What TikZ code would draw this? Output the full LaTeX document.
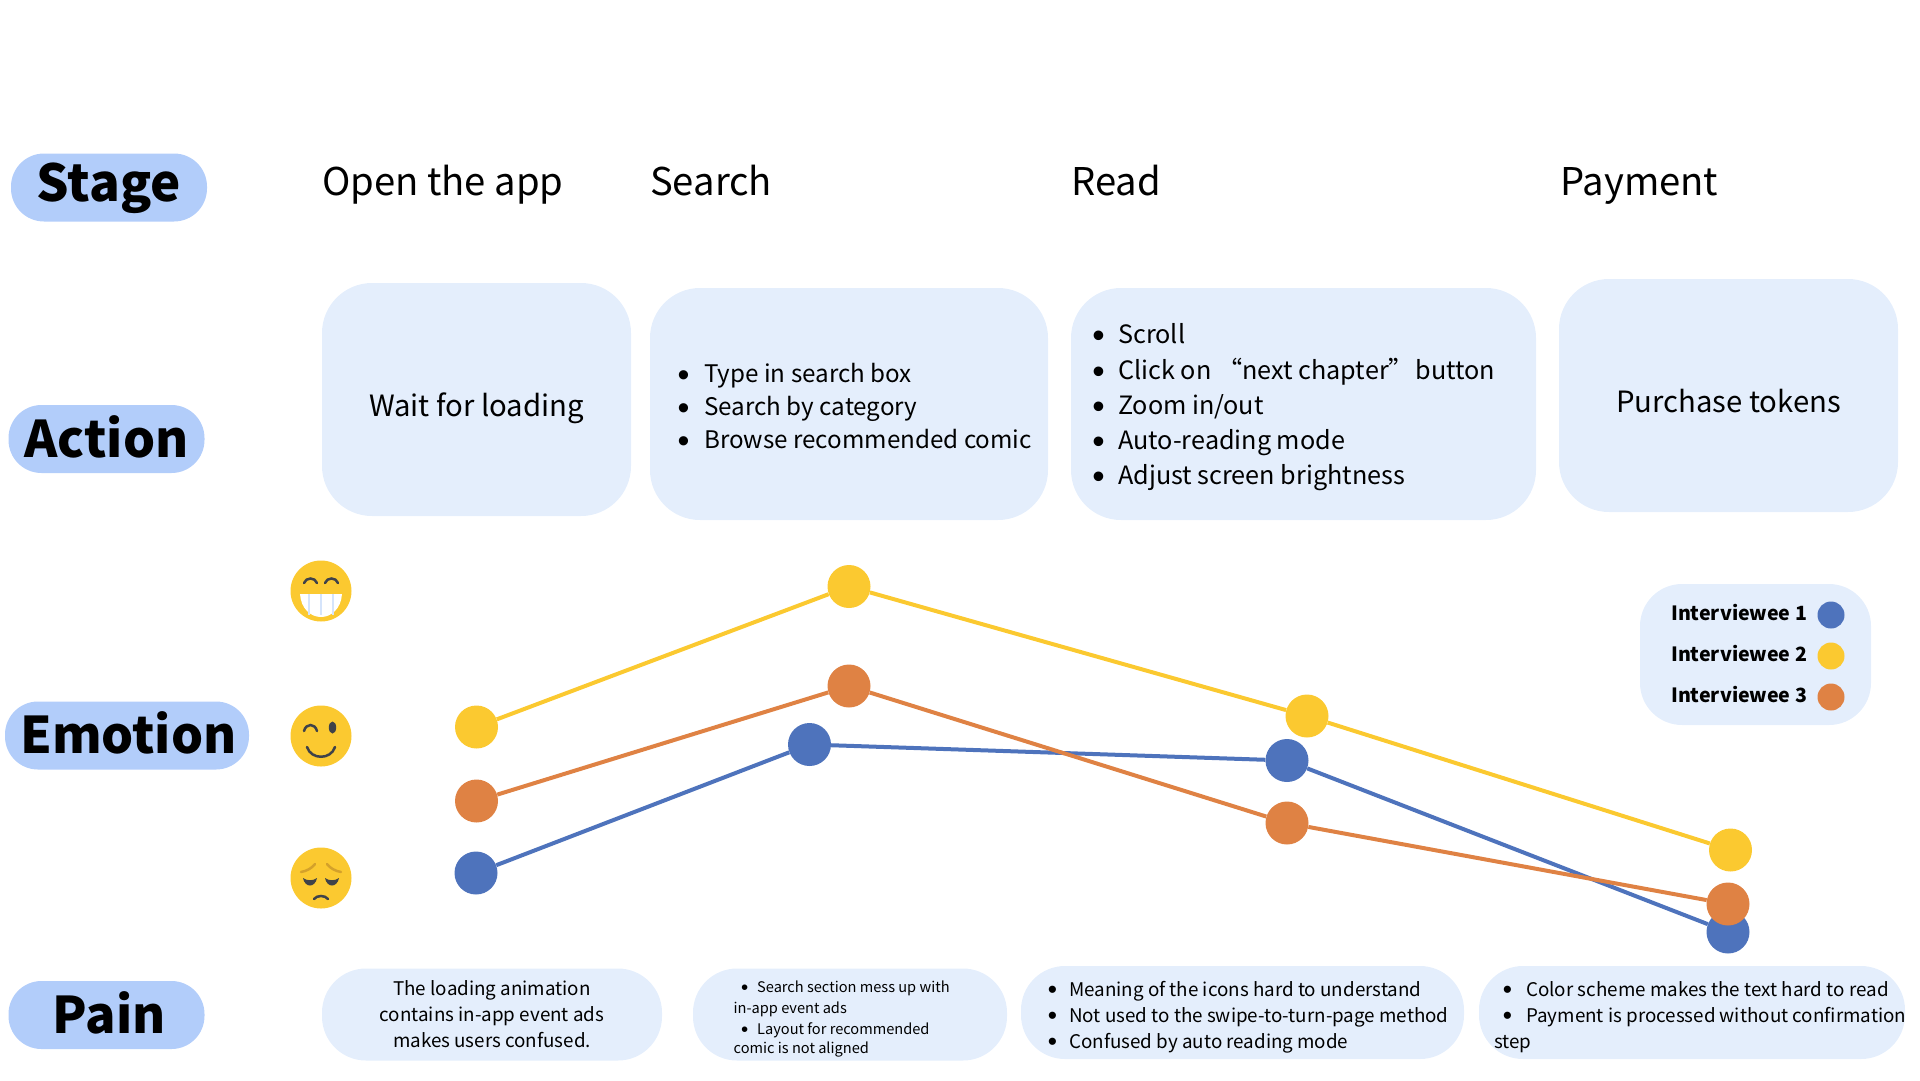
\documentclass[tikz,border=0pt]{standalone}
\usepackage{fontspec}
\setmainfont{Noto Sans CJK SC}
\newfontfamily\bulletfont{Liberation Sans}
\definecolor{pillblue}{HTML}{B2CDFA}
\definecolor{boxblue}{HTML}{E4EEFC}
\definecolor{dotblue}{HTML}{4E73BC}
\definecolor{dotyellow}{HTML}{FBC930}
\definecolor{dotorange}{HTML}{DF8244}
\definecolor{facedark}{HTML}{3F4249}
\definecolor{browtan}{HTML}{D4A12A}
\newcommand{\fsz}[1]{\fontsize{#1}{#1}\selectfont}
\newcommand{\itm}[2]{\makebox[#1pt][l]{\hspace{-.07em}\raisebox{-.15em}{\scalebox{1.4}{\bulletfont\textbullet}}}#2}
\tikzset{
 pill/.style={fill=pillblue, rounded corners=33pt, minimum height=68, inner sep=0, font=\fsz{50.5}\bfseries, text height=37pt, text depth=1pt},
 heading/.style={anchor=base west, inner sep=0, yshift=-11pt, font=\fsz{38.2}},
 actbox/.style={fill=boxblue, rounded corners=50pt, inner sep=0, font=\fsz{29.3}, text height=33pt, text depth=0pt},
 painbox/.style={fill=boxblue, rounded corners=44pt, inner sep=0, font=\fontsize{18.8}{26}\selectfont, align=center},
 listtext/.style={anchor=base west, inner sep=0, yshift=-9.8pt, font=\fsz{#1}},
 paintext/.style={anchor=base west, inner sep=0, yshift=-7pt, font=\fsz{18.8}},
 smalltext/.style={anchor=base west, inner sep=0, yshift=-5pt, font=\fsz{14.6}},
 legendtext/.style={anchor=base west, inner sep=0, yshift=-6.8pt, font=\fsz{19.6}\bfseries},
 dot/.style={circle, fill=#1, minimum size=43, inner sep=0},
 keydot/.style={circle, fill=#1, minimum size=27, inner sep=0},
 trend/.style={#1, line width=4},
 facestroke/.style={facedark, line width=2.5, line cap=round},
}
\begin{document}
\begin{tikzpicture}[x=1pt,y=-1pt]
\useasboundingbox (0,0) rectangle (1920,1080);

% row labels
\node[pill, minimum width=196, font=\fsz{51}\bfseries, text depth=10pt] (stage) at (109,187.5) {Stage};
\node[pill, minimum width=196] (action) at (106.5,439) {Action};
\node[pill, minimum width=244] (emotion) at (127,735.5) {\hspace{3pt}Emotion};
\node[pill, minimum width=196] (pain) at (106.5,1015) {\hspace{5pt}Pain};

% stages
\node[heading] (open) at (322,184) {Open the app};
\node[heading] (search) at (650,184) {Search};
\node[heading] (read) at (1071,184) {Read};
\node[heading] (payment) at (1560,184) {Payment};

% actions
\node[actbox, minimum width=309, minimum height=233] (act1) at (476.5,399.5) {Wait for loading};
\node[actbox, minimum width=398, minimum height=232] (act2) at (849,404) {};
\node[actbox, minimum width=465, minimum height=232] (act3) at (1303.5,404) {};
\node[actbox, minimum width=339, minimum height=233] (act4) at (1728.5,395.5) {Purchase tokens};
\foreach \y/\t [count=\i] in {373/Type in search box, 406/Search by category, 439/Browse recommended comic} {
 \node[listtext=24.2] (item2\i) at (679,\y) {\itm{25}{\t}};
}
\foreach \y/\t [count=\i] in {334/Scroll, 370/Click on “next chapter”\hspace{-4pt} button, 405/{Zoom in/out}, 440/Auto-reading mode, 475/Adjust screen brightness} {
 \node[listtext=25.2] (item3\i) at (1094,\y) {\itm{24}{\t}};
}

% faces
\begin{scope}[shift={(321,591)}]
\node[circle, fill=dotyellow, minimum size=61, inner sep=0] (grin) at (0,0) {};
\fill[white] (-21,3) -- (21,3) .. controls (20,18) and (10,26) .. (0,26) .. controls (-10,26) and (-20,18) .. (-21,3) -- cycle;
\foreach \x in {-12,0,12} {
\draw[boxblue!70!pillblue, line width=1.5] (\x,3) -- (\x,24);
}
\draw[facestroke] (-17,-8) .. controls (-15,-14) and (-6,-14) .. (-4,-8);
\draw[facestroke] (4,-8) .. controls (6,-14) and (15,-14) .. (17,-8);
\end{scope}
\begin{scope}[shift={(321,736)}]
\node[circle, fill=dotyellow, minimum size=61, inner sep=0] (wink) at (0,0) {};
\draw[facestroke] (-17,-5) .. controls (-15,-13) and (-6,-13) .. (-4,-5);
\fill[facedark] (11.5,-8.5) ellipse (3.7 and 6);
\draw[facestroke] (-14,11) .. controls (-10,24) and (10,24) .. (14,11);
\end{scope}
\begin{scope}[shift={(321,878)}]
\node[circle, fill=dotyellow, minimum size=61, inner sep=0] (sad) at (0,0) {};
\draw[browtan, line width=2.5, line cap=round] (-20,-6) .. controls (-14,-7) and (-9,-10) .. (-6,-14);
\draw[browtan, line width=2.5, line cap=round] (20,-6) .. controls (14,-7) and (9,-10) .. (6,-14);
\fill[facedark] (-18,0) .. controls (-14,3) and (-8,3) .. (-4,0) .. controls (-6,10) and (-16,10) .. (-18,0) -- cycle;
\fill[facedark] (18,0) .. controls (14,3) and (8,3) .. (4,0) .. controls (6,10) and (16,10) .. (18,0) -- cycle;
\draw[facestroke] (-7,21) .. controls (-4,17) and (4,17) .. (7,21);
\end{scope}

% emotion curves
\foreach \n/\x/\y in {a/476/873, b/809.5/744.5, c/1287/760.5, d/1728/932} {
 \node[dot=dotblue] (blue\n) at (\x,\y) {};
}
\draw[trend=dotblue] (bluea) -- (blueb) -- (bluec) -- (blued);
\foreach \n/\x/\y in {a/476.5/727, b/849/586.5, c/1307/716, d/1730.5/850} {
 \node[dot=dotyellow] (yellow\n) at (\x,\y) {};
}
\draw[trend=dotyellow] (yellowa) -- (yellowb) -- (yellowc) -- (yellowd);
\foreach \n/\x/\y in {a/476.5/801, b/849/686, c/1287/823, d/1728/904} {
 \node[dot=dotorange] (orange\n) at (\x,\y) {};
}
\draw[trend=dotorange] (orangea) -- (orangeb) -- (orangec) -- (oranged);

% legend
\node[fill=boxblue, rounded corners=42pt, minimum width=231, minimum height=141, inner sep=0] (legend) at (1755.5,654.5) {};
\foreach \y/\t/\c [count=\i] in {614/1/dotblue, 655/2/dotyellow, 696/3/dotorange} {
 \node[legendtext] (keytext\i) at (1671,\y) {Interviewee \t};
 \node[keydot=\c] (keydot\i) at (1831,\y+1) {};
}

% pains
\node[painbox, minimum width=340, minimum height=92] (pain1) at (492,1014.5) {The loading animation\\contains in-app event ads\\makes users confused.};
\node[painbox, minimum width=314, minimum height=92] (pain2) at (850,1014.5) {};
\node[painbox, minimum width=443, minimum height=93] (pain3) at (1242.5,1012.5) {};
\node[painbox, minimum width=426, minimum height=93] (pain4) at (1692,1012.5) {};
\node[smalltext] (note1) at (742,987) {\itm{15}{Search section mess up with}};
\node[smalltext] (note2) at (733.5,1008) {in-app event ads};
\node[smalltext] (note3) at (742,1029) {\itm{15}{Layout for recommended}};
\node[smalltext] (note4) at (733.5,1048) {comic is not aligned};
\foreach \y/\t [count=\i] in {989/Meaning of the icons hard to understand, 1015/Not used to the swipe-to-turn-page method, 1041/Confused by auto reading mode} {
 \node[paintext] (read\i) at (1049,\y) {\itm{20}{\t}};
}
\node[paintext] (pay1) at (1504,989) {\itm{22}{Color scheme makes the text hard to read}};
\node[paintext] (pay2) at (1504,1015) {\itm{22}{Payment is processed without confirmation}};
\node[paintext] (pay3) at (1494,1041) {step};
\end{tikzpicture}
\end{document}
